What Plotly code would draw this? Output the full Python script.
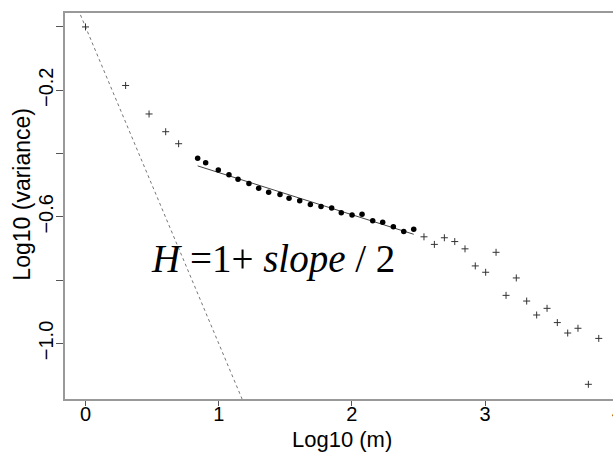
import plotly.graph_objects as go

# Log10(m) / Log10(variance) points drawn as small crosses
cross_x = [0.0, 0.301, 0.477, 0.602, 0.699,
           2.541, 2.619, 2.694, 2.772, 2.849, 2.926, 3.004, 3.082, 3.157,
           3.234, 3.312, 3.387, 3.465, 3.542, 3.620, 3.697, 3.775, 3.853]
cross_y = [0.0, -0.185, -0.275, -0.331, -0.369,
           -0.663, -0.687, -0.666, -0.678, -0.701, -0.755, -0.775, -0.712, -0.848,
           -0.793, -0.866, -0.910, -0.889, -0.934, -0.967, -0.952, -1.129, -0.984]

# points used in the fit (filled dots)
dot_x = [0.842, 0.902, 0.997, 1.077, 1.145, 1.227, 1.300, 1.375, 1.460, 1.528, 1.608,
         1.688, 1.768, 1.848, 1.920, 2.001, 2.076, 2.156, 2.231, 2.311, 2.389, 2.464]
dot_y = [-0.415, -0.429, -0.452, -0.467, -0.481, -0.495, -0.510, -0.522, -0.529, -0.541, -0.549,
         -0.561, -0.567, -0.572, -0.587, -0.594, -0.592, -0.612, -0.617, -0.631, -0.646, -0.639]

# fitted regression line
fit_x = [0.842, 2.464]
fit_y = [-0.439, -0.655]

# reference line of slope -1
ref_x = [-0.3, 1.4]
ref_y = [0.3, -1.4]

x_ticks = [0, 1, 2, 3, 4]
x_ticktext = ["0", "1", "2", "3", "4"]
y_ticks = [0.0, -0.2, -0.4, -0.6, -0.8, -1.0]
y_ticktext = ["", "\u22120.2", "", "\u22120.6", "", "\u22121.0"]

AX_FONT = "Liberation Sans, Arial, Helvetica, sans-serif"

fig = go.Figure()
fig.add_trace(go.Scatter(x=ref_x, y=ref_y, mode="lines",
                         line=dict(color="#777777", width=1, dash="dot"),
                         showlegend=False, hoverinfo="skip"))
fig.add_trace(go.Scatter(x=fit_x, y=fit_y, mode="lines",
                         line=dict(color="#444444", width=1),
                         showlegend=False, hoverinfo="skip"))
fig.add_trace(go.Scatter(x=cross_x, y=cross_y, mode="markers",
                         marker=dict(symbol="cross-thin", size=5,
                                     line=dict(color="#333333", width=1)),
                         showlegend=False))
fig.add_trace(go.Scatter(x=dot_x, y=dot_y, mode="markers",
                         marker=dict(symbol="circle", size=5.5, color="black",
                                     line=dict(width=0)),
                         showlegend=False))

fig.add_annotation(x=1.411, y=-0.732, xref="x", yref="y",
                   text="<i>H</i> =1+ <i>slope</i> / 2", showarrow=False,
                   xanchor="center", yanchor="middle",
                   font=dict(family="Liberation Serif, Times New Roman, serif", size=39, color="black"))
# x-axis title (plot is cropped on the right)
fig.add_annotation(x=0.5046, y=-0.106, xref="paper", yref="paper",
                   text="Log10 (m)", showarrow=False, xanchor="center", yanchor="middle",
                   font=dict(family=AX_FONT, size=22, color="black"))
# y-axis title
fig.add_annotation(x=-0.0785, y=0.532, xref="paper", yref="paper",
                   text="Log10 (variance)", showarrow=False, textangle=-90,
                   xanchor="center", yanchor="middle",
                   font=dict(family=AX_FONT, size=23, color="black"))
# tick label "4" at the cropped right edge
fig.add_annotation(x=1.0091, y=-0.0337, xref="paper", yref="paper",
                   text="4", showarrow=False, xanchor="center", yanchor="middle",
                   font=dict(family=AX_FONT, size=20, color="black"))

fig.update_layout(
    width=613, height=452,
    margin=dict(l=65, r=0, t=13, b=53),
    paper_bgcolor="white", plot_bgcolor="white",
    xaxis=dict(range=[-0.154, 3.960], tickvals=x_ticks[:4], ticktext=x_ticktext[:4],
               showgrid=False, zeroline=False, showline=True, mirror=True,
               linecolor="#999999", linewidth=1.5,
               ticks="outside", ticklen=5, tickcolor="#555555", tickwidth=1,
               ticklabelstandoff=-9,
               tickfont=dict(family=AX_FONT, size=20, color="black")),
    yaxis=dict(range=[-1.1754, 0.044], tickvals=y_ticks, ticktext=y_ticktext,
               showgrid=False, zeroline=False, showline=True, mirror=False,
               linecolor="#999999", linewidth=1.5,
               ticks="outside", ticklen=7, tickcolor="#555555", tickwidth=1,
               tickangle=-90, ticklabelstandoff=-5,
               tickfont=dict(family=AX_FONT, size=20, color="black")),
)

fig.write_html("out.html")
